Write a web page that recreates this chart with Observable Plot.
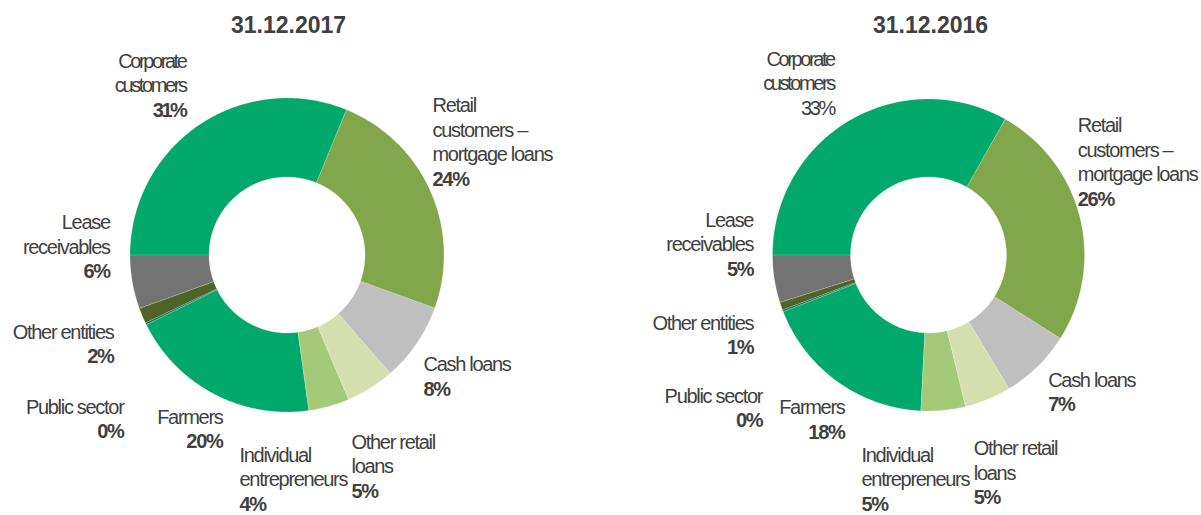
<!DOCTYPE html>
<html><head><meta charset="utf-8">
<script src="https://cdn.jsdelivr.net/npm/d3@7"></script>
<script src="https://cdn.jsdelivr.net/npm/@observablehq/plot@0.6"></script>
<style>
body{margin:0;background:#fff}
.lbl text{letter-spacing:-1.3px}
.corp text{letter-spacing:-2.4px}
</style></head><body><div id="chart"></div>
<script>
// ---- data ----
const categories = ["Corporate customers","Retail customers – mortgage loans","Cash loans","Other retail loans","Individual entrepreneurs","Farmers","Public sector","Other entities","Lease receivables"];
const labelText = ["Corporate\ncustomers","Retail\ncustomers –\nmortgage loans","Cash loans","Other retail\nloans","Individual\nentrepreneurs","Farmers","Public sector","Other entities","Lease\nreceivables"];
const dates = ["31.12.2017","31.12.2016"];
const values2017 = [31.2,24.3,8.1,5.0,4.2,19.9,0.2,1.6,5.5];
const values2016 = [33.2,25.8,7.4,4.8,4.6,18.3,0.2,0.8,4.9];
const seriesValues = [values2017, values2016];

// ---- styles / layout ----
const colors = ["#00A86B","#82A64B","#BFBFBF","#D5DFAE","#A3C979","#00A86B","#17694A","#4F6228","#737373"];
const textColor = "#404040";
const donutLayout = [
  {cx: 287, cy: 255, rOuter: 157, rInner: 78, titleX: 288, titleY: 25},
  {cx: 928.5, cy: 255, rOuter: 156, rInner: 78, titleX: 930, titleY: 25}
];
const labelLayout = [
  [[185,61,"end"],[432,105.5,"start"],[423,364.3,"start"],[351,441.7,"start"],[239,455,"start"],[222,417,"end"],[123,406.7,"end"],[113,331.7,"end"],[109.3,222.2,"end"]],
  [[833.3,59,"end"],[1077.3,125.3,"start"],[1047.7,380,"start"],[973.3,448.3,"start"],[861,455,"start"],[844,407.5,"end"],[761.7,395.8,"end"],[752.7,322.8,"end"],[752.7,220,"end"]]
];
const pctNormalWeight = [[], [0]]; // label indices whose percentage is not bold
const lineStep = 24.5;

// ---- slice geometry from values ----
const pie = d3.pie().sort(null).startAngle(-Math.PI/2).endAngle(3*Math.PI/2);
const sliceRows = [];
seriesValues.forEach((vals, c) => {
  const L = donutLayout[c];
  pie(vals).forEach((arc, i) => {
    const span = arc.endAngle - arc.startAngle;
    const n = Math.max(2, Math.ceil(span / (Math.PI/360)) + 1);
    for (let k = 0; k < n; k++) {
      const a = arc.startAngle + span * k / (n - 1);
      sliceRows.push({
        key: c + "-" + i, cat: categories[i],
        x1: L.cx + L.rInner * Math.sin(a), y1: L.cy - L.rInner * Math.cos(a),
        x2: L.cx + L.rOuter * Math.sin(a), y2: L.cy - L.rOuter * Math.cos(a)
      });
    }
  });
});

// ---- label rows ----
const textRows = [];
seriesValues.forEach((vals, c) => {
  vals.forEach((v, i) => {
    const [x, y0, anchor] = labelLayout[c][i];
    const lines = labelText[i].split("\n");
    const cls = i === 0 ? "corp" : "lbl";
    lines.forEach((t, j) => textRows.push({x, y: y0 + j * lineStep, text: t, anchor, weight: "normal", cls}));
    const w = pctNormalWeight[c].includes(i) ? "normal" : "bold";
    textRows.push({x, y: y0 + lines.length * lineStep, text: Math.round(v) + "%", anchor, weight: w, cls});
  });
});

const textMarks = d3.groups(textRows, d => d.anchor + "|" + d.weight + "|" + d.cls).map(([k, rows]) => {
  const [anchor, weight, cls] = k.split("|");
  return Plot.text(rows, {x: "x", y: "y", text: "text", textAnchor: anchor, fontWeight: weight,
    fontSize: 20, fill: textColor, className: cls});
});

const plot = Plot.plot({
  width: 1201, height: 515,
  marginTop: 0, marginRight: 0, marginBottom: 0, marginLeft: 0,
  x: {domain: [0, 1201], range: [0, 1201], axis: null},
  y: {domain: [0, 515], range: [0, 515], axis: null},
  color: {domain: categories, range: colors},
  style: {fontFamily: "'Liberation Sans', Arial, sans-serif", background: "#fff"},
  marks: [
    Plot.area(sliceRows, {x1: "x1", y1: "y1", x2: "x2", y2: "y2", z: "key", fill: "cat", curve: "linear",
      stroke: "white", strokeWidth: 0.4, strokeOpacity: 0.5}),
    Plot.text(dates, {x: (d, i) => donutLayout[i].titleX, y: (d, i) => donutLayout[i].titleY, text: d => d,
      fontSize: 23, fontWeight: "bold", fill: textColor}),
    ...textMarks
  ]
});
document.getElementById("chart").appendChild(plot);
</script>
</body></html>
